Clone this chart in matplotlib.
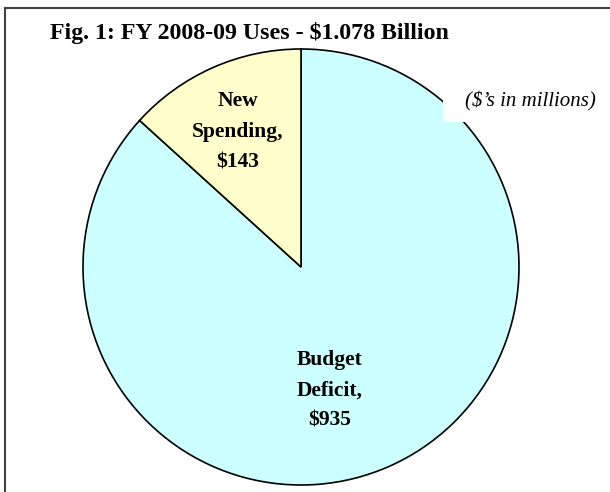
import matplotlib.pyplot as plt
from matplotlib.lines import Line2D
from matplotlib.patches import Rectangle

plt.rcParams['font.family'] = ['Liberation Serif', 'DejaVu Serif']

# data ($ in millions)
labels = ['Budget\nDeficit,\n$935', 'New\nSpending,\n$143']
values = [935, 143]
colors = ['#CCFFFF', '#FFFFCC']

W, H = 610, 492
fig = plt.figure(figsize=(W / 100, H / 100), dpi=100)

# pie axes: center (301,267), radius 218 px
ax = fig.add_axes([83 / W, (H - 485) / H, 436 / W, 436 / H])
wedges, _ = ax.pie(values, colors=colors, startangle=90, counterclock=False,
                   radius=1.0, wedgeprops=dict(edgecolor='black', linewidth=1.2))
ax.set_xlim(-1, 1)
ax.set_ylim(-1, 1)
ax.set_aspect('equal')
ax.axis('off')

# slice labels
ax.text(0.13, -0.565, labels[0], ha='center', va='center', fontsize=15.5,
        fontweight='bold', linespacing=1.7)
ax.text(-0.29, 0.62, labels[1], ha='center', va='center', fontsize=15.5,
        fontweight='bold', linespacing=1.7)

# white box behind the units note
fig.add_artist(Rectangle((443 / W, 1 - 122 / H), 165 / W, 40 / H,
                         transform=fig.transFigure, facecolor='white',
                         edgecolor='none', zorder=5))
fig.text(530 / W, 1 - 101 / H, "($\u2019s in millions)", ha='center', va='center',
         fontsize=15, style='italic', zorder=6)

fig.text(249.5 / W, 1 - 33 / H, 'Fig. 1: FY 2008-09 Uses - $1.078 Billion',
         ha='center', va='center', fontsize=17.2, fontweight='bold')

# frame lines (top and left)
fig.add_artist(Line2D([4.5 / W, 1], [1 - 7.5 / H, 1 - 7.5 / H], color='#404040', lw=1.5))
fig.add_artist(Line2D([4.5 / W, 4.5 / W], [0, 1 - 7.5 / H], color='#404040', lw=1.5))

fig.savefig('out.png', dpi=100)
